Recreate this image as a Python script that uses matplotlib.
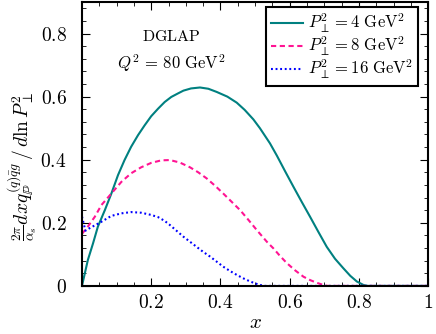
import matplotlib
matplotlib.use("Agg")
import matplotlib.pyplot as plt
from matplotlib.ticker import MultipleLocator, FixedLocator, FixedFormatter

plt.rcParams['mathtext.fontset'] = 'cm'
plt.rcParams['font.family'] = 'serif'
plt.rcParams['font.serif'] = ['cmr10', 'DejaVu Serif']
plt.rcParams['axes.formatter.use_mathtext'] = True

# Data
x4 = [0.0, 0.017, 0.032, 0.046, 0.066, 0.085, 0.104, 0.123, 0.142, 0.162, 0.181, 0.200, 0.220,
      0.239, 0.258, 0.277, 0.293, 0.315, 0.341, 0.365, 0.389, 0.420, 0.447, 0.470, 0.495, 0.514,
      0.543, 0.563, 0.587, 0.611, 0.635, 0.659, 0.683, 0.707, 0.731, 0.755, 0.775, 0.794, 0.813,
      0.825, 1.0]
y4 = [0.0, 0.082, 0.135, 0.188, 0.240, 0.293, 0.351, 0.399, 0.441, 0.478, 0.509, 0.538, 0.562,
      0.583, 0.599, 0.610, 0.619, 0.626, 0.629, 0.625, 0.615, 0.600, 0.581, 0.558, 0.528, 0.500,
      0.452, 0.413, 0.363, 0.314, 0.266, 0.219, 0.171, 0.124, 0.086, 0.056, 0.032, 0.014, 0.003,
      0.0, 0.0]

x8 = [0.0, 0.017, 0.037, 0.056, 0.085, 0.114, 0.142, 0.171, 0.200, 0.229, 0.254, 0.283, 0.312,
      0.336, 0.360, 0.384, 0.408, 0.432, 0.457, 0.481, 0.505, 0.534, 0.553, 0.572, 0.592, 0.616,
      0.640, 0.660, 0.678, 0.697, 0.71, 1.0]
y8 = [0.165, 0.188, 0.219, 0.256, 0.293, 0.330, 0.357, 0.376, 0.390, 0.398, 0.399, 0.391, 0.376,
      0.360, 0.341, 0.318, 0.293, 0.267, 0.240, 0.209, 0.177, 0.140, 0.119, 0.095, 0.072, 0.049,
      0.029, 0.018, 0.010, 0.003, 0.0, 0.0]

x16 = [0.0, 0.010, 0.022, 0.051, 0.085, 0.114, 0.142, 0.171, 0.200, 0.220, 0.239, 0.254, 0.273,
       0.293, 0.312, 0.331, 0.350, 0.370, 0.389, 0.408, 0.428, 0.447, 0.466, 0.486, 0.500, 0.514,
       0.53, 1.0]
y16 = [0.220, 0.175, 0.183, 0.200, 0.222, 0.230, 0.234, 0.232, 0.225, 0.218, 0.206, 0.193, 0.175,
       0.156, 0.140, 0.124, 0.108, 0.093, 0.077, 0.061, 0.047, 0.035, 0.024, 0.014, 0.008, 0.003,
       0.0, 0.0]

labels = [r'$P_\perp^2 = 4\ \mathrm{GeV}^2$', r'$P_\perp^2 = 8\ \mathrm{GeV}^2$', r'$P_\perp^2 = 16\ \mathrm{GeV}^2$']
xticks = [0.2, 0.4, 0.6, 0.8, 1.0]
xticklabels = ['$0.2$', '$0.4$', '$0.6$', '$0.8$', '$1$']
yticks = [0.0, 0.2, 0.4, 0.6, 0.8]
yticklabels = ['$0$', '$0.2$', '$0.4$', '$0.6$', '$0.8$']

fig = plt.figure(figsize=(4.36, 3.34), dpi=100)
ax = fig.add_axes([0.188, 0.144, 0.794, 0.850])

ax.plot(x4, y4, color='#008080', lw=1.5, ls='-', label=labels[0])
ax.plot(x8, y8, color='#FF1493', lw=1.5, ls=(0, (2.5, 1.7)), label=labels[1])
ax.plot(x16, y16, color='#0000FF', lw=1.5, ls=(0, (0.9, 1.3)), label=labels[2])

ax.set_xlim(0, 1)
ax.set_ylim(0, 0.9)
ax.xaxis.set_major_locator(FixedLocator(xticks))
ax.xaxis.set_major_formatter(FixedFormatter(xticklabels))
ax.yaxis.set_major_locator(FixedLocator(yticks))
ax.yaxis.set_major_formatter(FixedFormatter(yticklabels))
ax.xaxis.set_minor_locator(MultipleLocator(0.05))
ax.yaxis.set_minor_locator(MultipleLocator(0.04))
ax.tick_params(which='both', direction='in', top=True, right=True, labelsize=14)
ax.tick_params(axis='y', which='major', pad=11)
ax.tick_params(axis='x', which='major', pad=6)
ax.tick_params(which='major', length=6, width=0.8)
ax.tick_params(which='minor', length=3, width=0.6)
for s in ax.spines.values():
    s.set_linewidth(1.5)

ax.set_xlabel('$x$', fontsize=15, labelpad=1)
ax.set_ylabel(r'$\frac{2\pi}{\alpha_s} dx q_{\mathbb{P}}^{(q)\bar{q}g} \,/\, d\ln P_\perp^2$', fontsize=14)
ax.yaxis.set_label_coords(-0.125, 0.42)

ax.text(0.257, 0.88, r'$\mathrm{DGLAP}$', transform=ax.transAxes, ha='center', va='center', fontsize=11.5)
ax.text(0.257, 0.785, r'$Q^2\,=\,80\ \mathrm{GeV}^2$', transform=ax.transAxes, ha='center', va='center', fontsize=12)

leg = ax.legend(loc='upper right', bbox_to_anchor=(0.971, 0.982), fontsize=12, fancybox=False,
                framealpha=1, edgecolor='black', handlelength=1.9, borderaxespad=0.0,
                handletextpad=0.3, labelspacing=0.0, borderpad=0.3)
leg.get_frame().set_linewidth(1.5)

fig.savefig('out.png', dpi=100)
